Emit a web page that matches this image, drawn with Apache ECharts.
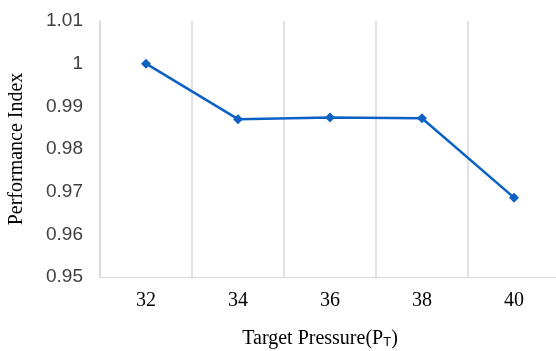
<!DOCTYPE html>
<html>
<head>
<meta charset="utf-8">
<script src="https://cdn.jsdelivr.net/npm/echarts@6/dist/echarts.min.js"></script>
<style>
  html, body { margin: 0; padding: 0; background: #fff; }
  #chart { width: 556px; height: 351px; }
</style>
</head>
<body>
<div id="chart"></div>
<script>
// Target pressure settings and the resulting performance index
const pressures = ['32', '34', '36', '38', '40'];
const performanceIndex = [1.0, 0.9870, 0.9874, 0.9872, 0.9686];
const yMin = 0.95;
const yMax = 1.01;
const yStep = 0.01;

const chart = echarts.init(document.getElementById('chart'));
chart.setOption({
  animation: false,
  grid: { left: 100, top: 21, bottom: 74, width: 460, containLabel: false, outerBoundsMode: 'none' },
  xAxis: {
    type: 'category',
    data: pressures,
    boundaryGap: true,
    axisLine: { show: true, lineStyle: { color: '#d9d9d9', width: 1 } },
    axisTick: { show: false },
    splitLine: { show: true, lineStyle: { color: '#d9d9d9', width: 1.5 } },
    axisLabel: {
      margin: 14,
      fontFamily: 'Liberation Serif',
      fontSize: 20,
      color: '#000'
    },
    name: '{t|Target Pressure(P}{s|T}{t|)}',
    nameLocation: 'middle',
    nameGap: 51,
    nameTextStyle: {
      padding: [0, 20, 0, 0],
      rich: {
        t: { fontFamily: 'Liberation Serif', fontSize: 20, color: '#000' },
        s: { fontFamily: 'Liberation Sans', fontSize: 13, color: '#000', verticalAlign: 'bottom', padding: [8, 0, 0, 0] }
      }
    }
  },
  yAxis: {
    type: 'value',
    min: yMin,
    max: yMax,
    interval: yStep,
    axisLine: { show: true, lineStyle: { color: '#d9d9d9', width: 1.5 } },
    axisTick: { show: false },
    splitLine: { show: false },
    axisLabel: {
      margin: 17,
      fontFamily: 'Liberation Sans',
      fontSize: 19,
      color: '#404040',
      formatter: v => String(parseFloat(v.toFixed(2)))
    },
    name: 'Performance Index',
    nameLocation: 'middle',
    nameGap: 73,
    nameRotate: 90,
    nameTextStyle: { fontFamily: 'Liberation Serif', fontSize: 20, color: '#000' }
  },
  series: [{
    type: 'line',
    data: performanceIndex,
    symbol: 'diamond',
    symbolSize: 10,
    lineStyle: { color: '#0b62c4', width: 2.5 },
    itemStyle: { color: '#0b62c4' }
  }]
});
</script>
</body>
</html>
